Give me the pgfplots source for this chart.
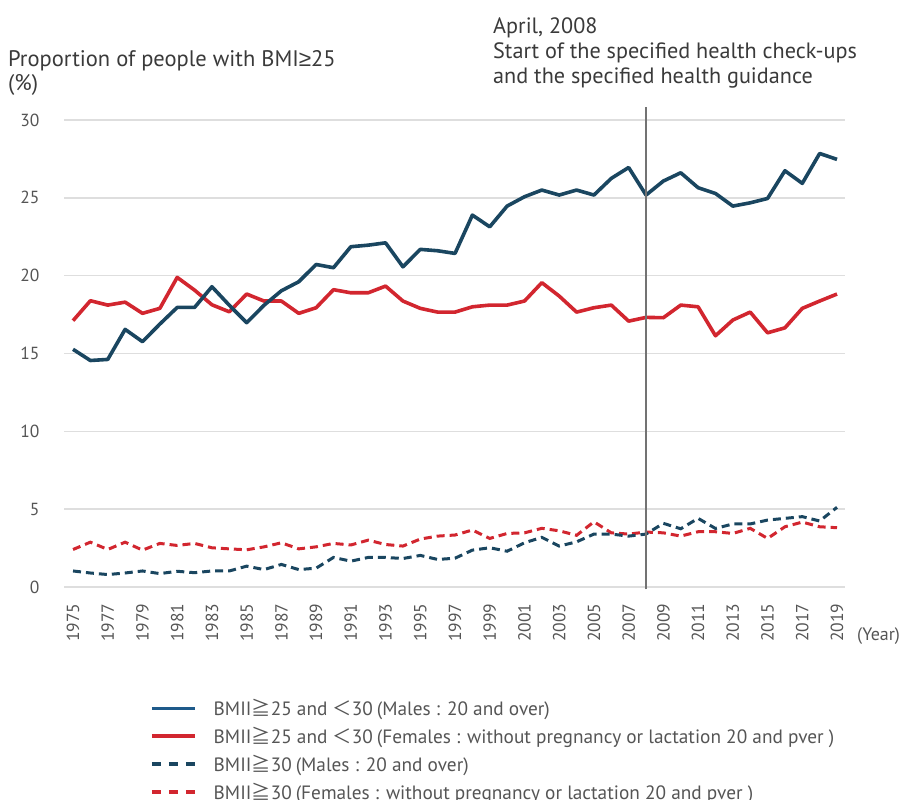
\documentclass[border=0pt]{standalone}
\usepackage{fontspec}
\setmainfont{PT Sans}
\newfontfamily\legfont{PT Sans}
\newfontfamily\cjk{Noto Sans CJK JP}
\newfontfamily\symf{Liberation Sans}
\usepackage{pgfplots}
\pgfplotsset{compat=1.18}
\definecolor{navy}{HTML}{1A4660}
\definecolor{navyleg}{HTML}{1E5A8A}
\definecolor{myred}{HTML}{D2262F}
\definecolor{gridc}{HTML}{DEDEDE}
\definecolor{txt}{HTML}{3A3A3A}
\definecolor{ticktxt}{HTML}{555555}
\pgfplotstableread{
year m25 f25 m30 f30
1975 15.27 17.11 1.03 2.41
1976 14.55 18.39 0.90 2.88
1977 14.62 18.11 0.80 2.41
1978 16.55 18.30 0.90 2.88
1979 15.76 17.58 1.03 2.37
1980 16.89 17.90 0.86 2.80
1981 17.96 19.89 1.01 2.67
1982 17.96 19.07 0.92 2.80
1983 19.29 18.13 1.03 2.52
1984 18.10 17.68 1.03 2.45
1985 16.98 18.82 1.34 2.39
1986 18.10 18.37 1.12 2.58
1987 19.03 18.37 1.45 2.84
1988 19.61 17.58 1.12 2.45
1989 20.72 17.94 1.21 2.58
1990 20.51 19.10 1.90 2.80
1991 21.86 18.90 1.66 2.70
1992 21.96 18.90 1.90 3.01
1993 22.11 19.33 1.90 2.73
1994 20.57 18.37 1.83 2.63
1995 21.69 17.90 2.03 3.08
1996 21.60 17.66 1.77 3.27
1997 21.43 17.66 1.85 3.34
1998 23.89 18.00 2.37 3.66
1999 23.14 18.11 2.52 3.12
2000 24.47 18.11 2.30 3.44
2001 25.07 18.37 2.84 3.48
2002 25.50 19.55 3.19 3.77
2003 25.18 18.69 2.63 3.61
2004 25.50 17.66 2.90 3.32
2005 25.18 17.94 3.40 4.19
2006 26.25 18.11 3.40 3.48
2007 26.95 17.08 3.27 3.40
2008 25.18 17.32 3.40 3.53
2009 26.08 17.30 4.09 3.48
2010 26.61 18.11 3.74 3.27
2011 25.65 18.00 4.41 3.55
2012 25.28 16.14 3.76 3.55
2013 24.47 17.15 4.05 3.44
2014 24.68 17.66 4.05 3.77
2015 24.96 16.33 4.30 3.12
2016 26.74 16.65 4.41 3.87
2017 25.93 17.90 4.52 4.17
2018 27.85 18.37 4.24 3.87
2019 27.47 18.82 5.12 3.81
}\data
\begin{document}
\begin{tikzpicture}[x=1pt,y=1pt]
\path[use as bounding box] (0,0) rectangle (899,-800);
\begin{axis}[
  at={(64pt,-587pt)}, anchor=south west,
  scale only axis, width=781pt, height=467pt,
  xmin=1974.48, xmax=2019.46, ymin=0, ymax=30,
  clip=false,
  axis line style={draw=none},
  major tick style={draw=none},
  ymajorgrids, major grid style={gridc, line width=1.6pt},
  ytick={0,5,...,30},
  xtick={1975,1977,...,2019},
  /pgf/number format/assume math mode=true,
  /pgf/number format/1000 sep={},
  tick label style={font=\fontsize{17.5}{20}\selectfont, text=ticktxt},
  xticklabel style={rotate=90, anchor=east},
  xticklabel shift=13pt,
  yticklabel shift=21pt,
  legend style={draw=none, fill=none, at={(0.110,-0.236)}, anchor=north west,
    inner sep=0pt, column sep=15pt, row sep=6pt,
    font=\legfont\fontsize{19.3}{22}\selectfont, text=ticktxt},
  legend cell align=left,
  legend image code/.code={\draw[#1] (0pt,0pt) -- (43pt,0pt);},
]
\addplot[myred, line width=3pt, dash pattern=on 8pt off 5pt, forget plot] table[x=year,y=f30]{\data};
\addplot[navy, line width=3pt, dash pattern=on 8pt off 5pt, forget plot] table[x=year,y=m30]{\data};
\addplot[myred, line width=3.6pt, line join=round, forget plot] table[x=year,y=f25]{\data};
\addplot[navy, line width=3.6pt, line join=round, forget plot] table[x=year,y=m25]{\data};
\draw[gray!90!black, line width=1.4pt] (axis cs:2008,-0.15) -- (axis cs:2008,30.85);
\addlegendimage{navyleg, line width=3.6pt}
\addlegendentry{BMII{\cjk ≧}25 and {\cjk ＜}30\hspace{4pt}(Males : 20 and over)}
\addlegendimage{myred, line width=3.6pt}
\addlegendentry{BMII{\cjk ≧}25 and {\cjk ＜}30\hspace{4pt}(Females : without pregnancy or lactation 20 and pver )}
\addlegendimage{navy, line width=3.4pt, dash pattern=on 9pt off 8pt}
\addlegendentry{BMII{\cjk ≧}30\hspace{4pt}(Males : 20 and over)}
\addlegendimage{myred, line width=3.4pt, dash pattern=on 9pt off 8pt}
\addlegendentry{BMII{\cjk ≧}30\hspace{4pt}(Females : without pregnancy or lactation 20 and pver )}
\end{axis}
\node[anchor=base west, inner sep=0pt, text=ticktxt, font=\fontsize{18}{20}\selectfont] at (857,-640) {(Year)};
\node[anchor=base west, inner sep=0pt, text=txt, font=\fontsize{22.5}{24}\selectfont, align=left] at (8,-66.7) {Proportion of people with BMI{\symf ≥}25};
\node[anchor=base west, inner sep=0pt, text=txt, font=\fontsize{22.5}{24}\selectfont] at (8,-90) {(\%)};
\node[anchor=base west, inner sep=0pt, text=txt, font=\fontsize{22.2}{25}\selectfont] at (493,-33.3) {April, 2008};
\node[anchor=base west, inner sep=0pt, text=txt, font=\fontsize{22.2}{25}\selectfont] at (493,-58.3) {Start of the specified health check-ups};
\node[anchor=base west, inner sep=0pt, text=txt, font=\fontsize{22.2}{25}\selectfont] at (493,-83.3) {and the specified health guidance};
\end{tikzpicture}
\end{document}
